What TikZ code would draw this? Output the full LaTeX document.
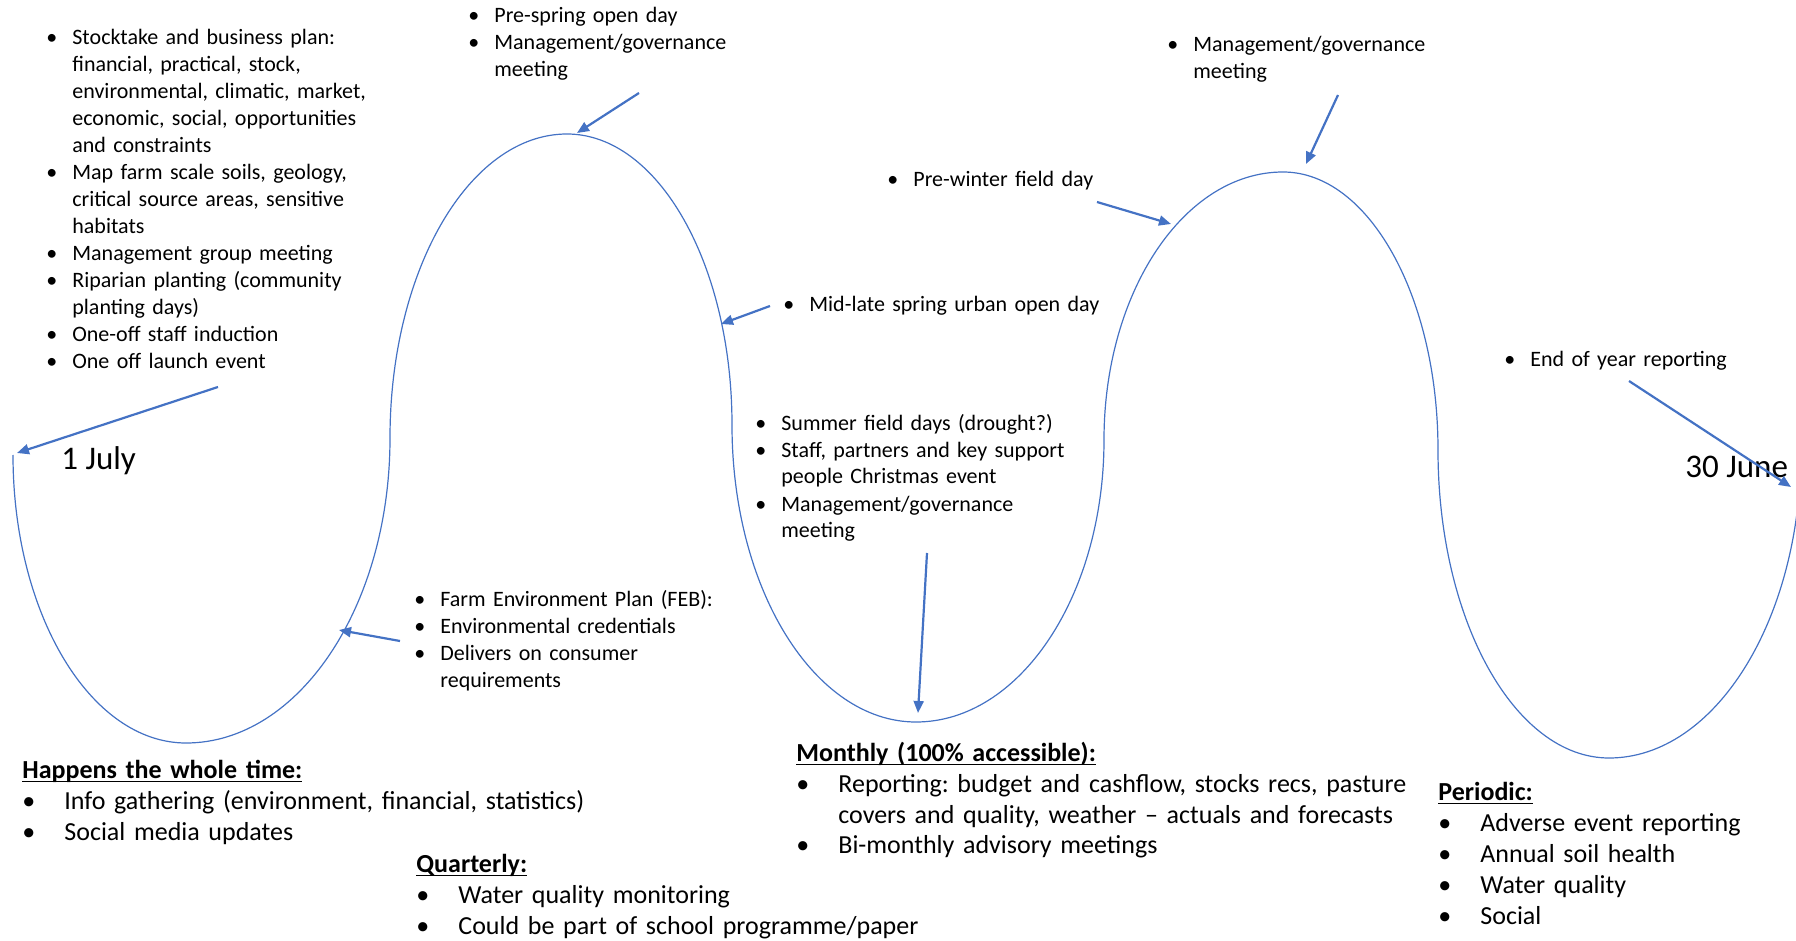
\documentclass[tikz,border=0pt]{standalone}
\usepackage{fontspec}
\setmainfont{Carlito}
\usetikzlibrary{arrows.meta}
\definecolor{waveblue}{HTML}{4472C4}
\frenchspacing
\newlength{\bulind}
\newcommand{\itm}[1]{\hangindent=\bulind\hangafter=1\noindent\makebox[\bulind][l]{\textbullet}#1\par}
\newcommand{\ulhead}[1]{\setbox0=\hbox{\bfseries #1}\rlap{\rule[-2.2pt]{\wd0}{0.8pt}}\box0\par}
\tikzset{
  wave/.style={waveblue, line width=0.6pt},
  pointer/.style={waveblue, line width=1.1pt, -{Triangle[length=6pt,width=5pt]}},
  eventlist/.style={anchor=base west, inner sep=0pt, text width=260pt, align=left,
    font=\fontsize{11}{13.5}\selectfont, execute at begin node={\setlength{\bulind}{13pt}}},
  cyclelist/.style={anchor=base west, inner sep=0pt, text width=330pt, align=left,
    font=\fontsize{13}{15.5}\selectfont, execute at begin node={\setlength{\bulind}{21pt}}},
  datelabel/.style={anchor=base west, inner sep=0pt, font=\fontsize{16.5}{20}\selectfont}
}
\begin{document}
\begin{tikzpicture}[x=0.5pt,y=-0.5pt]
\useasboundingbox (0,0) rectangle (1796,941);

\draw[wave] (13,455) .. controls (13,614) and (90.5,743) .. (186,743)
  .. controls (298.7,743) and (390,606.4) .. (390,438)
  .. controls (390,270.1) and (469.2,134) .. (567,134)
  .. controls (658.1,134) and (732,264.3) .. (732,425)
  .. controls (732,589) and (814.4,722) .. (916,722)
  .. controls (1019.8,722) and (1104,595.7) .. (1104,440)
  .. controls (1104,292) and (1184.1,172) .. (1283,172)
  .. controls (1368.6,172) and (1438,296.5) .. (1438,450)
  .. controls (1438,620.1) and (1514.6,758) .. (1609,758)
  .. controls (1715,758) and (1801,620) .. (1801,450);

\node[eventlist] (setup) at (46,45) {\itm{Stocktake and business plan:\newline financial, practical, stock,\newline environmental, climatic, market,\newline economic, social, opportunities\newline and constraints}
  \itm{Map farm scale soils, geology,\newline critical source areas, sensitive\newline habitats}
  \itm{Management group meeting}
  \itm{Riparian planting (community\newline planting days)}
  \itm{One-off staff induction}
  \itm{One off launch event}};
\node[eventlist] (spring) at (468,23) {\itm{Pre-spring open day}
  \itm{Management/governance\newline meeting}};
\node[eventlist] (urban) at (783,312) {\itm{Mid-late spring urban open day}};
\node[eventlist] (winter) at (887,187) {\itm{Pre-winter field day}};
\node[eventlist] (govern) at (1167,52) {\itm{Management/governance\newline meeting}};
\node[eventlist] (yearend) at (1504,367) {\itm{End of year reporting}};
\node[eventlist] (summer) at (755,430) {\itm{Summer field days (drought?)}
  \itm{Staff, partners and key support\newline people Christmas event}
  \itm{Management/governance\newline meeting}};
\node[eventlist] (feb) at (414,606) {\itm{Farm Environment Plan (FEB):}
  \itm{Environmental credentials}
  \itm{Delivers on consumer\newline requirements}};

\node[datelabel] (july) at (61,470) {1 July};
\node[datelabel] (june) at (1685,478) {30 June};

\node[cyclelist] (always) at (22,778) {\ulhead{Happens the whole time:}
  \itm{Info gathering (environment, financial, statistics)}
  \itm{Social media updates}};
\node[cyclelist] (quarter) at (416,872) {\ulhead{Quarterly:}
  \itm{Water quality monitoring}
  \itm{Could be part of school programme/paper}};
\node[cyclelist] (month) at (796,761) {\ulhead{Monthly (100\% accessible):}
  \itm{Reporting: budget and cashflow, stocks recs, pasture\newline covers and quality, weather -- actuals and forecasts}
  \itm{Bi-monthly advisory meetings}};
\node[cyclelist] (period) at (1438,800) {\ulhead{Periodic:}
  \itm{Adverse event reporting}
  \itm{Annual soil health}
  \itm{Water quality}
  \itm{Social}};

\coordinate (setup-s) at (218,387);   \coordinate (setup-e) at (17,453);
\coordinate (spring-s) at (639,93);   \coordinate (spring-e) at (577,133);
\coordinate (urban-s) at (770,306);   \coordinate (urban-e) at (721,324);
\coordinate (winter-s) at (1097,202); \coordinate (winter-e) at (1171,224);
\coordinate (govern-s) at (1338,95);  \coordinate (govern-e) at (1306,164);
\coordinate (yearend-s) at (1629,381); \coordinate (yearend-e) at (1791,487);
\coordinate (summer-s) at (927,553);  \coordinate (summer-e) at (918,713);
\coordinate (feb-s) at (400,641);     \coordinate (feb-e) at (339,630);
\foreach \n in {setup,spring,urban,winter,govern,yearend,summer,feb}
  \draw[pointer] (\n-s) -- (\n-e);
\end{tikzpicture}
\end{document}
